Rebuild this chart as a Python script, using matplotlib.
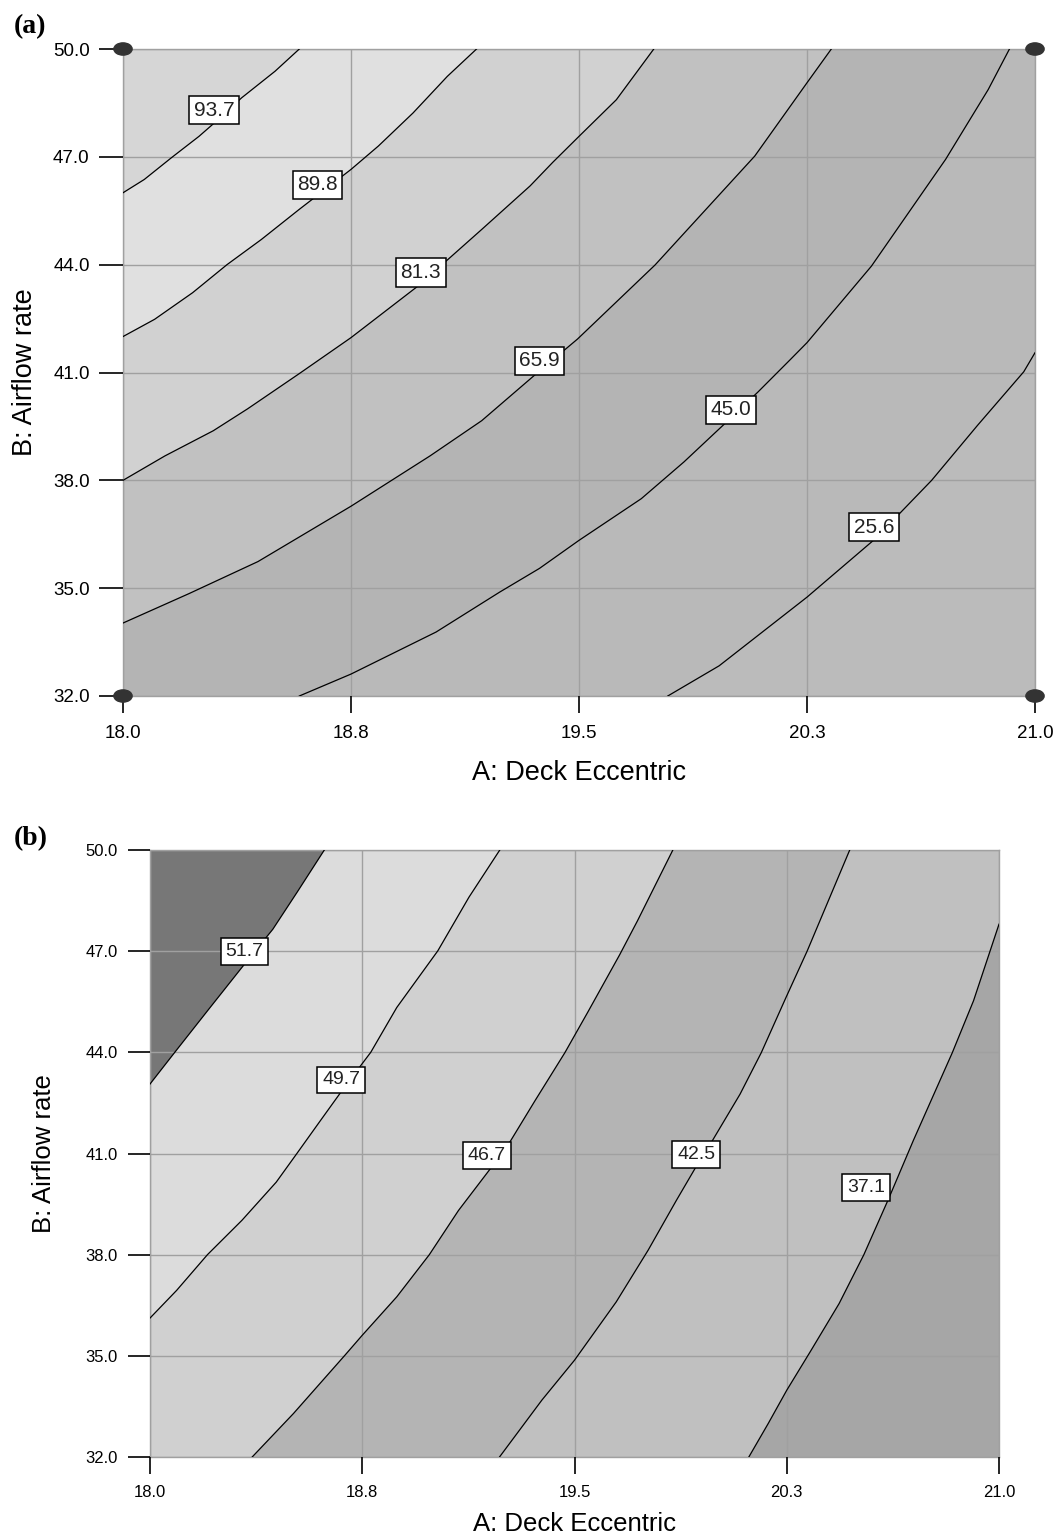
import matplotlib
matplotlib.use("Agg")
import matplotlib.pyplot as plt
from matplotlib.patches import Ellipse

# ---------------- data ----------------
x_ticks = [18.0, 18.75, 19.5, 20.25, 21.0]
x_tick_labels = ["18.0", "18.8", "19.5", "20.3", "21.0"]
y_ticks = [32.0, 35.0, 38.0, 41.0, 44.0, 47.0, 50.0]
y_tick_labels = ["32.0", "35.0", "38.0", "41.0", "44.0", "47.0", "50.0"]
x_label = "A: Deck Eccentric"
y_label = "B: Airflow rate"

# design points (panel a)
design_x = [18.0, 18.0, 21.0, 21.0]
design_y = [32.0, 50.0, 32.0, 50.0]

# panel (a) contour levels and traced contour lines
a_levels = [93.7, 89.8, 81.3, 65.9, 45.0, 25.6]
a_937_x = [18.0, 18.07, 18.16, 18.25, 18.30, 18.39, 18.50, 18.58]
a_937_y = [46.0, 46.37, 46.98, 47.57, 47.94, 48.64, 49.38, 50.0]
a_898_x = [18.0, 18.104, 18.229, 18.342, 18.455, 18.58, 18.75, 18.84, 18.954, 19.067, 19.163]
a_898_y = [42.0, 42.48, 43.22, 44.0, 44.70, 45.54, 46.65, 47.30, 48.22, 49.24, 50.0]
a_813_x = [18.0, 18.138, 18.297, 18.41, 18.58, 18.75, 18.971, 19.18, 19.339, 19.414, 19.5, 19.623, 19.746]
a_813_y = [38.0, 38.68, 39.38, 39.99, 40.97, 41.97, 43.41, 44.98, 46.19, 46.85, 47.57, 48.59, 50.0]
a_659_x = [18.0, 18.2175, 18.444, 18.75, 19.01, 19.18, 19.36, 19.495, 19.75, 20.078, 20.25, 20.33]
a_659_y = [34.03, 34.85, 35.74, 37.28, 38.68, 39.66, 40.97, 41.93, 43.99, 47.02, 49.06, 50.0]
a_450_x = [18.58, 18.75, 19.03, 19.239, 19.37, 19.5, 19.705, 19.845, 19.985, 20.089, 20.194, 20.25, 20.462, 20.706, 20.846, 20.916]
a_450_y = [32.0, 32.61, 33.78, 34.89, 35.55, 36.33, 37.49, 38.51, 39.62, 40.46, 41.35, 41.83, 43.96, 46.93, 48.87, 50.0]
a_256_x = [19.792, 19.961, 20.25, 20.474, 20.66, 20.811, 20.963, 21.0]
a_256_y = [32.0, 32.84, 34.75, 36.37, 38.0, 39.53, 41.02, 41.55]

# panel (b) contour levels and traced contour lines
b_levels = [51.7, 49.7, 46.7, 42.5, 37.1]
b_517_x = [18.0, 18.0875, 18.203, 18.325, 18.434, 18.52, 18.616]
b_517_y = [43.06, 44.0, 45.23, 46.52, 47.65, 48.75, 50.0]
b_497_x = [18.0, 18.094, 18.203, 18.325, 18.446, 18.519, 18.60, 18.69, 18.78, 18.872, 19.017, 19.127, 19.236]
b_497_y = [36.12, 36.94, 38.0, 39.02, 40.15, 41.0, 41.95, 43.0, 44.0, 45.33, 47.01, 48.6, 50.0]
b_467_x = [18.361, 18.507, 18.689, 18.75, 18.872, 18.987, 19.09, 19.26, 19.36, 19.466, 19.5475, 19.66, 19.7225, 19.8475]
b_467_y = [32.0, 33.29, 35.02, 35.61, 36.75, 38.0, 39.31, 41.18, 42.56, 43.99, 45.2, 46.9, 47.9, 50.0]
b_425_x = [19.235, 19.385, 19.5, 19.6475, 19.76, 19.86, 19.929, 19.985, 20.085, 20.16, 20.2475, 20.3225, 20.4725]
b_425_y = [32.0, 33.69, 34.87, 36.6, 38.13, 39.61, 40.6, 41.35, 42.76, 43.99, 45.63, 47.01, 50.0]
b_371_x = [20.116, 20.185, 20.25, 20.335, 20.435, 20.5225, 20.61, 20.6975, 20.835, 20.91, 21.0]
b_371_y = [32.0, 33.0, 33.98, 35.15, 36.55, 38.0, 39.66, 41.39, 43.99, 45.53, 47.8]

# ---------------- styling / layout ----------------
# band colours, from the top-left band to the bottom-right band
a_band_colors = ["#d6d6d6", "#e0e0e0", "#d1d1d1", "#c1c1c1", "#b4b4b4", "#b9b9b9", "#bbbbbb"]
b_band_colors = ["#777777", "#dcdcdc", "#d0d0d0", "#b4b4b4", "#c0c0c0", "#a6a6a6"]
# label anchor positions (data coords)
a_label_pos = [(18.30, 48.30), (18.64, 46.22), (18.98, 43.78), (19.37, 41.32), (20.0, 39.96), (20.47, 36.70)]
b_label_pos = [(18.334, 47.0), (18.675, 43.18), (19.19, 40.95), (19.93, 40.97), (20.53, 40.0)]

plt.rcParams['font.family'] = ['Liberation Sans', 'DejaVu Sans']

XLIM = (18.0, 21.0)
YLIM = (32.0, 50.0)


def boundary_s(x, y):
    x0, x1 = XLIM
    y0, y1 = YLIM
    eps = 1e-9
    if abs(y - y0) < eps:
        return (x - x0) / (x1 - x0)
    if abs(x - x1) < eps:
        return 1 + (y - y0) / (y1 - y0)
    if abs(y - y1) < eps:
        return 2 + (x1 - x) / (x1 - x0)
    return 3 + (y1 - y) / (y1 - y0)


def region_above(xs, ys):
    x0, x1 = XLIM
    y0, y1 = YLIM
    corners = {1: (x1, y0), 2: (x1, y1), 3: (x0, y1), 4: (x0, y0)}
    s_start = boundary_s(xs[0], ys[0])
    s_end = boundary_s(xs[-1], ys[-1])
    if s_start < s_end:
        s_start += 4
    px, py = list(xs), list(ys)
    for c in (1, 2, 3, 4):
        if s_end < c < s_start:
            px.append(corners[c][0])
            py.append(corners[c][1])
    return px, py


def draw_panel(ax, lines, levels, band_colors, label_pos, tick_fs, clab_fs, clab_pad,
               ytick_len, xtick_len, ytick_pad, xtick_pad):
    x0, x1 = XLIM
    y0, y1 = YLIM
    ax.fill([x0, x1, x1, x0], [y0, y0, y1, y1], color=band_colors[-1], lw=0, zorder=1)
    for i in range(len(lines) - 1, -1, -1):
        xs, ys = lines[i]
        px, py = region_above(xs, ys)
        ax.fill(px, py, color=band_colors[i], lw=0, zorder=1)
    for xs, ys in lines:
        ax.plot(xs, ys, color="black", lw=0.9, zorder=3)
    for (lx, ly), lev in zip(label_pos, levels):
        ax.text(lx, ly, f"{lev:.1f}", ha="center", va="center", fontsize=clab_fs, zorder=6,
                color="#222222",
                bbox=dict(boxstyle=f"square,pad={clab_pad}", fc="white", ec="black", lw=1.1))
    ax.set_xlim(XLIM)
    ax.set_ylim(YLIM)
    ax.set_xticks(x_ticks)
    ax.set_xticklabels(x_tick_labels)
    ax.set_yticks(y_ticks)
    ax.set_yticklabels(y_tick_labels)
    ax.set_axisbelow(False)
    ax.grid(True, color="#a0a0a0", lw=1.0)
    for sp in ax.spines.values():
        sp.set_color("#a0a0a0")
        sp.set_linewidth(1.0)
    ax.tick_params(axis="y", direction="out", length=ytick_len, width=1.2, color="black",
                   labelsize=tick_fs, pad=ytick_pad)
    ax.tick_params(axis="x", direction="out", length=xtick_len, width=1.2, color="black",
                   labelsize=tick_fs, pad=xtick_pad)


fig = plt.figure(figsize=(10.55, 15.36), dpi=100)
W, H = 1055.0, 1536.0
axA = fig.add_axes([123 / W, 1 - 696 / H, 912 / W, 647 / H])
axB = fig.add_axes([150 / W, 1 - 1457 / H, 849 / W, 607 / H])

a_lines = [(a_937_x, a_937_y), (a_898_x, a_898_y), (a_813_x, a_813_y),
           (a_659_x, a_659_y), (a_450_x, a_450_y), (a_256_x, a_256_y)]
b_lines = [(b_517_x, b_517_y), (b_497_x, b_497_y), (b_467_x, b_467_y),
           (b_425_x, b_425_y), (b_371_x, b_371_y)]

draw_panel(axA, a_lines, a_levels, a_band_colors, a_label_pos, 13.5, 15, 0.22,
           17, 12, 7, 9)
draw_panel(axB, b_lines, b_levels, b_band_colors, b_label_pos, 12, 14, 0.25,
           16, 12, 7, 8)

for dx, dy in zip(design_x, design_y):
    e = Ellipse((dx, dy), width=0.06, height=0.34, color="#333333", zorder=7, clip_on=False)
    axA.add_patch(e)

axA.set_xlabel(x_label, fontsize=19.5)
axA.set_ylabel(y_label, fontsize=19.5)
axA.xaxis.set_label_coords(0.5, -0.099)
axA.yaxis.set_label_coords(-0.093, 0.5)
axB.set_xlabel(x_label, fontsize=18.5)
axB.set_ylabel(y_label, fontsize=18.5)
axB.xaxis.set_label_coords(0.5, -0.09)
axB.yaxis.set_label_coords(-0.111, 0.5)

fig.text(14 / W, 1 - 27 / H, "(a)", fontsize=20, fontweight="bold",
         family=["Liberation Serif", "DejaVu Serif"], ha="left", va="center")
fig.text(14 / W, 1 - 839 / H, "(b)", fontsize=20, fontweight="bold",
         family=["Liberation Serif", "DejaVu Serif"], ha="left", va="center")

fig.savefig("out.png", dpi=100, facecolor="white")
